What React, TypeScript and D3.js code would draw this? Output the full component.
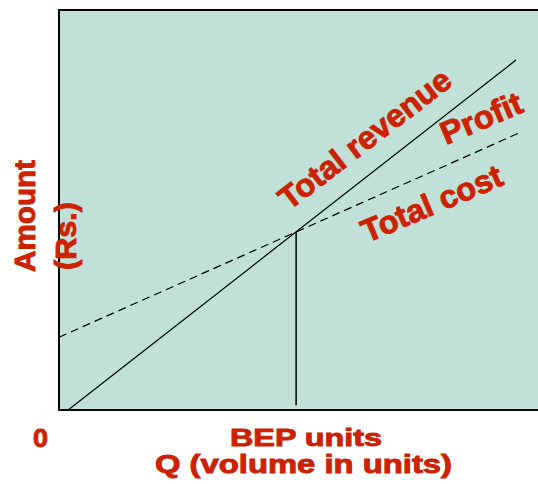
import * as d3 from 'd3'

// Break-even chart values (quantity units on x, amount in Rs. on y)
const revenueQty = [1.9, 95.2]
const revenueAmt = [0, 87.5]
const costQty = [0, 96.5]
const costAmt = [18.2, 69.6]
const bepQty = 49.4
const bepAmt = [1.2, 44.5]

const W = 538
const H = 484
const red = '#cc2200'
const font = '"Liberation Sans", Arial, sans-serif'

export default function App() {
  const x = d3.scaleLinear().domain([0, 100]).range([59, 539])
  const y = d3.scaleLinear().domain([0, 100]).range([410, 10])

  const line = d3.line<[number, number]>()
    .x(d => x(d[0]))
    .y(d => y(d[1]))

  const revenuePts = revenueQty.map((q, i) => [q, revenueAmt[i]] as [number, number])
  const costPts = costQty.map((q, i) => [q, costAmt[i]] as [number, number])

  return (
    <svg width={W} height={H} style={{ position: 'absolute', left: 0, top: 0 }}>
      <rect x={x(0)} y={y(100)} width={W - x(0) + 4} height={y(0) - y(100)}
        fill="#c0e0d8" stroke="#000" strokeWidth={2} />

      <path d={line(revenuePts) ?? ''} fill="none" stroke="#000" strokeWidth={1.2} />
      <path d={line(costPts) ?? ''} fill="none" stroke="#000" strokeWidth={1.2} strokeDasharray="8,5" />
      <line x1={x(bepQty)} x2={x(bepQty)} y1={y(bepAmt[0])} y2={y(bepAmt[1])}
        stroke="#000" strokeWidth={1.5} />

      <g fill={red} stroke={red} strokeWidth={0.9} fontFamily={font} fontWeight="bold">
        <text transform="translate(289,211) rotate(-37.5)" fontSize={32}
          textLength={208} lengthAdjust="spacingAndGlyphs">Total revenue</text>
        <text transform="translate(446,145) rotate(-23)" fontSize={32}
          textLength={86} lengthAdjust="spacingAndGlyphs">Profit</text>
        <text transform="translate(367,243) rotate(-23)" fontSize={32}
          textLength={150} lengthAdjust="spacingAndGlyphs">Total cost</text>

        <text transform="translate(35,272) rotate(-90)" fontSize={30}
          textLength={112} lengthAdjust="spacingAndGlyphs">Amount</text>
        <text transform="translate(76,270) rotate(-90)" fontSize={30}
          textLength={68} lengthAdjust="spacingAndGlyphs">(Rs.)</text>

        <text x={33} y={447} fontSize={25} textLength={15} lengthAdjust="spacingAndGlyphs">0</text>
        <text x={230} y={446} fontSize={24} textLength={152} lengthAdjust="spacingAndGlyphs">BEP units</text>
        <text x={155} y={473} fontSize={25} textLength={297} lengthAdjust="spacingAndGlyphs">Q (volume in units)</text>
      </g>
    </svg>
  )
}
